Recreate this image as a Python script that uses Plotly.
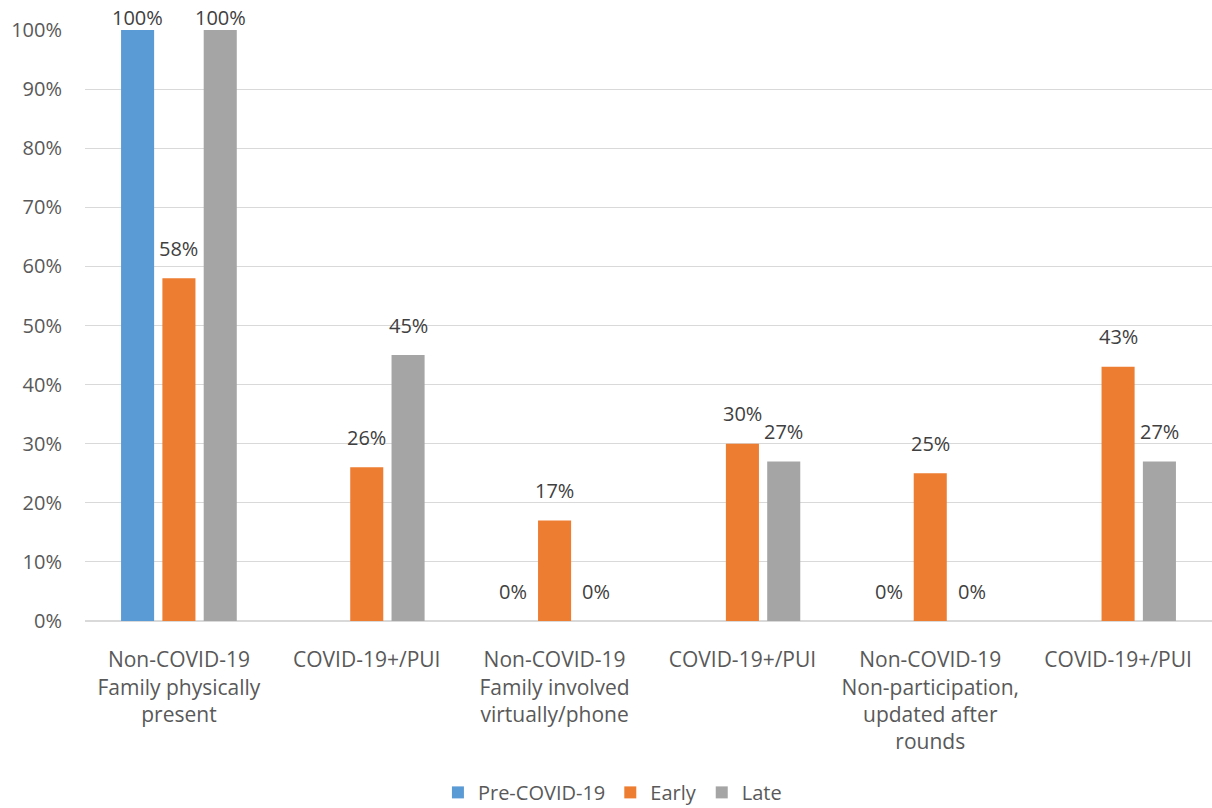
import plotly.graph_objects as go

categories = [
    "Non-COVID-19<br>Family physically<br>present",
    "COVID-19+/PUI",
    "Non-COVID-19<br>Family involved<br>virtually/phone",
    "COVID-19+/PUI",
    "Non-COVID-19<br>Non-participation,<br>updated after<br>rounds",
    "COVID-19+/PUI",
]
series_names = ["Pre-COVID-19", "Early", "Late"]
pre_covid = [100, None, 0, None, 0, None]
early = [58, 26, 17, 30, 25, 43]
late = [100, 45, 0, 27, 0, 27]
y_ticks = [0, 10, 20, 30, 40, 50, 60, 70, 80, 90, 100]
y_tick_labels = [f"{t}%" for t in y_ticks]

colors = ["#5B9BD5", "#ED7D31", "#A5A5A5"]
FONT = "Open Sans"
BARGAP = 0.34
BARGROUPGAP = 0.2
Y_MAX = 100
TOP_MARGIN = 29.5
BOTTOM_MARGIN = 187
HEIGHT = 808
LABEL_GAP = 30      # px from bar top to label centre
LABEL_HALF = 13     # approx half label height in px

plot_h = HEIGHT - TOP_MARGIN - BOTTOM_MARGIN
px_per_unit = plot_h / Y_MAX

xpos = list(range(len(categories)))
all_series = [pre_covid, early, late]

fig = go.Figure()
for name, vals, col in zip(series_names, all_series, colors):
    fig.add_trace(go.Bar(
        x=xpos, y=vals, name=name, marker_color=col, marker_line_width=0,
        cliponaxis=False,
    ))

# data labels above bars (pulled down when they would leave the figure)
slot = (1 - BARGAP) / len(series_names)
annotations = []
for k, vals in enumerate(all_series):
    off = (k - (len(series_names) - 1) / 2) * slot
    for i, v in enumerate(vals):
        if v is None:
            continue
        headroom = TOP_MARGIN + (Y_MAX - v) * px_per_unit - LABEL_HALF - 4
        shift = min(LABEL_GAP, headroom)
        annotations.append(dict(
            x=xpos[i] + off, y=v, xref="x", yref="y",
            text=f"{v}%", showarrow=False, yanchor="middle", yshift=shift,
            font=dict(family=FONT, size=20, color="#404040"),
        ))

fig.update_layout(
    width=1212, height=HEIGHT,
    margin=dict(l=85, r=0, t=TOP_MARGIN, b=BOTTOM_MARGIN, autoexpand=False),
    paper_bgcolor="white", plot_bgcolor="white",
    barmode="group", bargap=BARGAP, bargroupgap=BARGROUPGAP,
    font=dict(family=FONT, color="#595959", size=20),
    annotations=annotations,
    showlegend=True,
    legend=dict(orientation="h", x=0.468, xanchor="center", y=-0.29, yanchor="middle",
                font=dict(family=FONT, size=20, color="#595959"),
                itemsizing="constant", traceorder="normal"),
)
fig.update_xaxes(
    range=[-0.5, len(categories) - 0.5],
    tickvals=xpos, ticktext=categories,
    showgrid=False, zeroline=False, showline=False,
    ticks="outside", ticklen=20, tickcolor="rgba(0,0,0,0)",
    tickfont=dict(family=FONT, size=21, color="#595959"),
    tickangle=0,
)
fig.update_yaxes(
    range=[0, Y_MAX], tickvals=y_ticks, ticktext=y_tick_labels,
    showgrid=True, gridcolor="#D9D9D9", gridwidth=1,
    zeroline=True, zerolinecolor="#D9D9D9", zerolinewidth=2,
    showline=False, ticks="outside", ticklen=18, tickcolor="rgba(0,0,0,0)",
    tickfont=dict(family=FONT, size=20, color="#595959"),
)

fig.write_html("out.html")
